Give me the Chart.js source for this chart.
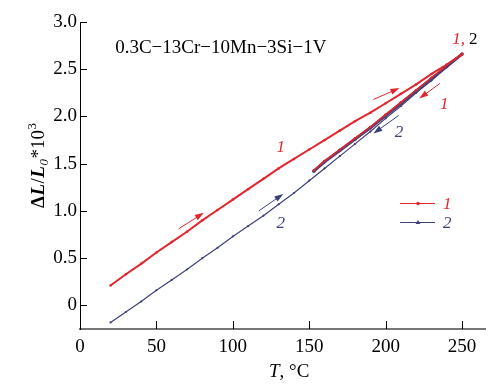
<!DOCTYPE html>
<html lang="en">
<head>
  <meta charset="UTF-8">
  <title>Dilatometric curves</title>
  <style>
    body { margin: 0; background: #fff; }
    canvas { display: block; }
  </style>
</head>
<body>
  <script src="https://cdn.jsdelivr.net/npm/chart.js@4.4.1/dist/chart.umd.min.js"></script>
  <canvas id="chart" width="500" height="390"></canvas>
  <script>
  // values
  const tempHeat = [20, 30, 40, 50, 60, 70, 80, 90, 100, 110, 120, 130, 140, 150, 160, 170, 180, 190, 200, 210, 220, 230, 240, 250];
  const dil1Heat = [0.21, 0.33, 0.44, 0.56, 0.67, 0.78, 0.90, 1.01, 1.12, 1.23, 1.34, 1.45, 1.55, 1.65, 1.75, 1.85, 1.95, 2.04, 2.14, 2.24, 2.34, 2.45, 2.55, 2.66];
  const dil2Heat = [-0.18, -0.07, 0.04, 0.16, 0.27, 0.38, 0.50, 0.61, 0.73, 0.84, 0.95, 1.07, 1.19, 1.32, 1.45, 1.58, 1.71, 1.84, 1.98, 2.11, 2.25, 2.38, 2.52, 2.66];
  const tempCool = [250, 240, 230, 220, 210, 200, 190, 180, 170, 160, 153];
  const dil1Cool = [2.66, 2.54, 2.41, 2.28, 2.15, 2.02, 1.89, 1.77, 1.65, 1.53, 1.43];
  const dil2Cool = [2.66, 2.53, 2.40, 2.27, 2.14, 2.01, 1.88, 1.76, 1.64, 1.52, 1.42];
  const xTicks = [0, 50, 100, 150, 200, 250];
  const yTicks = [0, 0.5, 1.0, 1.5, 2.0, 2.5, 3.0];
  const seriesNames = ['1', '2'];

  const RED = '#e3262e';
  const BLUE = '#3c4079';
  const SERIF = "'Liberation Serif', 'Times New Roman', serif";

  const pts = (xs, ys) => xs.map((x, i) => ({ x: x, y: ys[i] }));

  // text notes and arrows, placed in data units
  const notes = [
    { text: '0.3C\u221213Cr\u221210Mn\u22123Si\u22121V', t: 23, v: 2.67, color: '#000', italic: false },
    { text: '1', t: 128.5, v: 1.62, color: RED, italic: true },
    { text: '2', t: 128.5, v: 0.82, color: BLUE, italic: true },
    { text: '1', t: 235.5, v: 2.08, color: RED, italic: true },
    { text: '2', t: 206, v: 1.78, color: BLUE, italic: true },
    { text: '1,', t: 243.5, v: 2.77, color: RED, italic: true },
    { text: '2', t: 254.5, v: 2.77, color: '#000', italic: false }
  ];
  const arrows = [
    { from: [64.5, 0.81], to: [81, 0.98], color: RED },
    { from: [192, 2.18], to: [209, 2.30], color: RED },
    { from: [235.5, 2.35], to: [222, 2.19], color: RED },
    { from: [117, 1.00], to: [133, 1.18], color: BLUE },
    { from: [208.5, 2.01], to: [192, 1.82], color: BLUE }
  ];

  function drawArrow(ctx, x1, y1, x2, y2, color) {
    const a = Math.atan2(y2 - y1, x2 - x1);
    ctx.strokeStyle = color;
    ctx.fillStyle = color;
    ctx.lineWidth = 1;
    ctx.beginPath();
    ctx.moveTo(x1, y1);
    ctx.lineTo(x2 - 6 * Math.cos(a), y2 - 6 * Math.sin(a));
    ctx.stroke();
    ctx.beginPath();
    ctx.moveTo(x2, y2);
    ctx.lineTo(x2 - 9 * Math.cos(a) + 3 * Math.sin(a), y2 - 9 * Math.sin(a) - 3 * Math.cos(a));
    ctx.lineTo(x2 - 9 * Math.cos(a) - 3 * Math.sin(a), y2 - 9 * Math.sin(a) + 3 * Math.cos(a));
    ctx.closePath();
    ctx.fill();
  }

  const extras = {
    id: 'extras',
    afterDraw(chart) {
      const ctx = chart.ctx;
      const xs = chart.scales.x, ys = chart.scales.y;
      const area = chart.chartArea;
      ctx.save();

      // inward tick marks
      ctx.strokeStyle = '#000';
      ctx.lineWidth = 1;
      xTicks.forEach(v => {
        if (v === 0) return;
        const px = Math.round(xs.getPixelForValue(v)) + 0.5;
        ctx.beginPath();
        ctx.moveTo(px, area.bottom);
        ctx.lineTo(px, area.bottom - 8);
        ctx.stroke();
      });
      yTicks.forEach(v => {
        const py = Math.round(ys.getPixelForValue(v)) + 0.5;
        ctx.beginPath();
        ctx.moveTo(area.left, py);
        ctx.lineTo(area.left + 7, py);
        ctx.stroke();
      });

      // notes
      ctx.textBaseline = 'alphabetic';
      ctx.textAlign = 'left';
      notes.forEach(n => {
        ctx.font = (n.italic ? 'italic 17px ' : (n.text.length > 2 ? '19px ' : '17px ')) + SERIF;
        ctx.fillStyle = n.color;
        ctx.fillText(n.text, xs.getPixelForValue(n.t), ys.getPixelForValue(n.v));
      });

      arrows.forEach(a => drawArrow(ctx,
        xs.getPixelForValue(a.from[0]), ys.getPixelForValue(a.from[1]),
        xs.getPixelForValue(a.to[0]), ys.getPixelForValue(a.to[1]), a.color));

      // legend
      const leg = [
        { y: 203, color: RED, style: 'dot' },
        { y: 222, color: BLUE, style: 'tri' }
      ];
      leg.forEach((l, i) => {
        ctx.strokeStyle = l.color;
        ctx.fillStyle = l.color;
        ctx.lineWidth = 1;
        ctx.beginPath();
        ctx.moveTo(400, l.y + 0.5);
        ctx.lineTo(435, l.y + 0.5);
        ctx.stroke();
        ctx.beginPath();
        if (l.style === 'dot') {
          ctx.arc(418, l.y + 0.5, 1.8, 0, Math.PI * 2);
        } else {
          ctx.moveTo(418, l.y - 2);
          ctx.lineTo(420.5, l.y + 2);
          ctx.lineTo(415.5, l.y + 2);
          ctx.closePath();
        }
        ctx.fill();
        ctx.font = 'italic 17px ' + SERIF;
        ctx.fillText(seriesNames[i], 443, l.y + 6);
      });

      // axis titles
      ctx.fillStyle = '#000';
      ctx.font = 'italic 19px ' + SERIF;
      let x = 269;
      ctx.fillText('T', x, 377);
      x += ctx.measureText('T').width;
      ctx.font = '19px ' + SERIF;
      ctx.fillText(', \u00B0C', x, 377);

      ctx.translate(44, 208);
      ctx.rotate(-Math.PI / 2);
      const parts = [
        { s: '\u0394', f: 'bold 19px ', dy: 0 },
        { s: 'L', f: 'bold italic 19px ', dy: 0 },
        { s: '/', f: '19px ', dy: 0 },
        { s: 'L', f: 'bold italic 19px ', dy: 0 },
        { s: '0', f: 'italic 13px ', dy: 4 },
        { s: '*10', f: '19px ', dy: 0 },
        { s: '3', f: '13px ', dy: -8 }
      ];
      let tx = 0;
      parts.forEach(p => {
        ctx.font = p.f + SERIF;
        ctx.fillText(p.s, tx, p.dy);
        tx += ctx.measureText(p.s).width + 0.5;
      });
      ctx.restore();
    }
  };

  function makeChart() {
    new Chart(document.getElementById('chart'), {
      type: 'line',
      data: {
        datasets: [
          { label: '1', data: pts(tempHeat, dil1Heat), borderColor: RED, backgroundColor: RED, borderWidth: 2, pointRadius: 1.3, pointBorderWidth: 0 },
          { label: '2', data: pts(tempHeat, dil2Heat), borderColor: BLUE, backgroundColor: BLUE, borderWidth: 1.2, pointRadius: 1.1, pointBorderWidth: 0 },
          { label: '1 cooling', data: pts(tempCool, dil1Cool), borderColor: RED, backgroundColor: RED, borderWidth: 1.5, pointRadius: 1.2, pointBorderWidth: 0 },
          { label: '2 cooling', data: pts(tempCool, dil2Cool), borderColor: '#4e4272', backgroundColor: '#4e4272', borderWidth: 3, pointRadius: 1.8, pointBorderWidth: 0 }
        ]
      },
      options: {
        responsive: false,
        animation: false,
        layout: { padding: { top: 22, right: 15, left: 0, bottom: 0 } },
        plugins: {
          legend: { display: false },
          tooltip: { enabled: false }
        },
        scales: {
          x: {
            type: 'linear',
            min: 0,
            max: 265,
            afterBuildTicks: s => { s.ticks = xTicks.map(v => ({ value: v })); },
            afterFit: s => { s.height = 61; },
            grid: { display: false, drawTicks: false },
            border: { display: true, color: '#777', width: 2 },
            ticks: { color: '#000', padding: 7, maxRotation: 0, font: { family: SERIF, size: 19 } }
          },
          y: {
            min: -0.25,
            max: 3.0,
            afterBuildTicks: s => { s.ticks = yTicks.map(v => ({ value: v })); },
            afterFit: s => { s.width = 80; },
            grid: { display: false, drawTicks: false },
            border: { display: true, color: '#000', width: 1 },
            ticks: {
              color: '#000', padding: 3, font: { family: SERIF, size: 19 },
              callback: v => v === 0 ? '0' : v.toFixed(1)
            }
          }
        }
      },
      plugins: [extras]
    });
  }

  Promise.all([
    document.fonts.load("19px 'Liberation Serif'"),
    document.fonts.load("italic 19px 'Liberation Serif'"),
    document.fonts.load("bold italic 19px 'Liberation Serif'")
  ]).then(makeChart, makeChart);
  </script>
</body>
</html>
